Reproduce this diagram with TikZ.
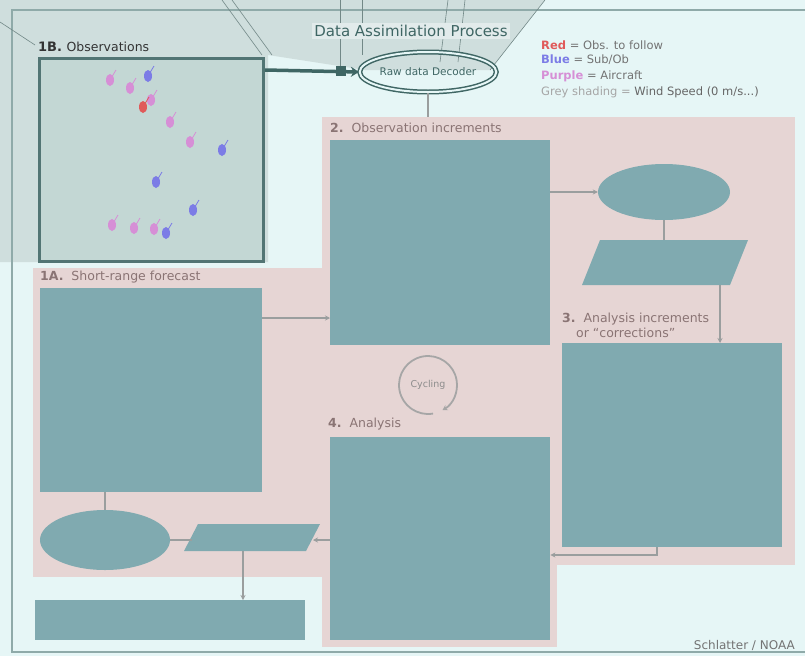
\documentclass[tikz,border=0pt]{standalone}
\usepackage{fontspec}
\setmainfont{DejaVu Sans}
\usetikzlibrary{shapes.geometric,arrows.meta}
\definecolor{bgc}{HTML}{E6F6F6}
\definecolor{shadec}{HTML}{CFDEDD}
\definecolor{pinkc}{HTML}{E6D5D4}
\definecolor{tealc}{HTML}{80AAB0}
\definecolor{dark}{HTML}{3F6664}
\definecolor{framec}{HTML}{8FAAA9}
\definecolor{conn}{HTML}{9A9E9E}
\definecolor{lab}{HTML}{8A7474}
\definecolor{obsbox}{HTML}{C3D7D4}
\definecolor{pinkob}{HTML}{D68FD6}
\definecolor{blueob}{HTML}{7C7CE6}
\definecolor{redob}{HTML}{E05A5A}
\tikzset{
  tbox/.style={fill=tealc, draw=none},
  tell/.style={ellipse, fill=tealc, draw=none},
  conline/.style={draw=conn, line width=2pt},
  conarrow/.style={conline, -{Stealth[length=5pt,width=5pt]}},
  lbl/.style={anchor=west, text=lab, font=\fontsize{12.5}{15}\selectfont, inner sep=0pt},
  legtext/.style={anchor=west, inner sep=0pt, font=\fontsize{11.5}{12}\selectfont, text=black!55},
  deco/.style={draw=framec!80!black, line width=0.6pt},
  anchorbox/.style={draw=none, fill=none, inner sep=0pt},
}
\newcommand{\obsmark}[3]{\fill[#1] (#2,#3) ellipse (4pt and 6pt); \draw[#1, line width=0.8pt] (#2,#3) -- ++(6,-10);}
\begin{document}
\begin{tikzpicture}[x=1pt,y=-1pt]
\useasboundingbox (0,0) rectangle (805,656);
\fill[bgc] (0,0) rectangle (805,656);
% grey shading
\fill[shadec] (0,0) -- (545,0) -- (490,70) -- (365,70) -- (268,55) -- (268,262) -- (0,262) -- cycle;
% pink regions
\fill[pinkc] (322,117) rectangle (795,565);
\fill[pinkc] (33,268) rectangle (322,577);
\fill[pinkc] (322,117) rectangle (557,647);
% frame
\draw[framec, line width=2.5pt] (805,10) -- (12,10) -- (12,652) -- (805,652);
% decorative lines
\draw[deco] (0,22) -- (35,45);
\draw[deco] (222,0) -- (262,55);
\draw[deco] (232,0) -- (272,55);
\draw[deco] (340,0) -- (340,72);
\draw[deco] (362,0) -- (362,55);
\draw[deco] (448,0) -- (440,62);
\draw[deco] (465,0) -- (458,62);
\draw[deco] (545,0) -- (490,70);
% title
\node[text=dark, font=\fontsize{15}{17}\selectfont, fill=shadec!60!white, inner sep=2pt] (title) at (411,31) {Data Assimilation Process};
% 1B observations
\node[anchor=west, font=\fontsize{13}{14}\selectfont\bfseries, text=black!80, inner sep=0pt] (l1b) at (38,47) {1B. \mdseries\fontsize{12.5}{14}\selectfont Observations};
\node[draw=dark!90, line width=3pt, fill=obsbox, minimum width=224pt, minimum height=203pt, anchor=north west, inner sep=0pt] (obs) at (38,57) {};
\obsmark{pinkob}{110}{80}
\obsmark{pinkob}{130}{88}
\obsmark{blueob}{148}{76}
\obsmark{pinkob}{151}{100}
\obsmark{redob}{143}{107}
\obsmark{pinkob}{170}{122}
\obsmark{pinkob}{190}{142}
\obsmark{blueob}{222}{150}
\obsmark{blueob}{156}{182}
\obsmark{blueob}{193}{210}
\obsmark{pinkob}{112}{225}
\obsmark{pinkob}{134}{228}
\obsmark{pinkob}{154}{229}
\obsmark{blueob}{166}{233}
% decoder ellipse
\node[ellipse, draw=dark, line width=1.5pt, double=bgc, double distance=2pt, minimum width=134pt, minimum height=40pt, inner sep=0pt, font=\fontsize{10.5}{12}\selectfont, text=dark] (dec) at (428,72) {Raw data Decoder};
\draw[dark, line width=3.5pt, -{Stealth[length=8pt,width=10pt]}] (obs.east |- 0,70) -- (dec.west);
\fill[dark] (336,66) rectangle (346,76);
% legend
\node[legtext] (lg1) at (541,45) {\textcolor{redob}{\bfseries Red} = Obs. to follow};
\node[legtext] (lg2) at (541,60) {\textcolor{blueob}{\bfseries Blue} = Sub/Ob};
\node[legtext] (lg3) at (541,76) {\textcolor{pinkob}{\bfseries Purple} = Aircraft};
\node[legtext, text=black!35, font=\fontsize{11.5}{12}\selectfont] (lg4) at (541,92) {Grey shading = \textcolor{black!60}{Wind Speed (0 m/s...)}};
% 2 observation increments
\node[lbl] (l2) at (330,128) {\textbf{2.}\ \ Observation increments};
\node[tbox, anchor=north west, minimum width=220pt, minimum height=205pt, inner sep=0pt] (b2) at (330,140) {};
\node[tell, minimum width=132pt, minimum height=56pt] (e2) at (664,192) {};
\fill[tealc] (600,240) -- (748,240) -- (730,285) -- (582,285) -- cycle;
\node[anchorbox, minimum width=166pt, minimum height=45pt] (p2) at (665,262.5) {};
% 3 analysis increments
\node[lbl, align=left] (l3) at (562,325) {\textbf{3.}\ \ Analysis increments\\ \hspace{14pt}or ``corrections''};
\node[tbox, anchor=north west, minimum width=220pt, minimum height=204pt, inner sep=0pt] (b3) at (562,343) {};
% 4 analysis
\node[lbl] (l4) at (328,424) {\textbf{4.}\ \ Analysis};
\node[tbox, anchor=north west, minimum width=220pt, minimum height=203pt, inner sep=0pt] (b4) at (330,437) {};
% 1A forecast
\node[lbl] (l1a) at (40,277) {\textbf{1A.}\ \ Short-range forecast};
\node[tbox, anchor=north west, minimum width=222pt, minimum height=204pt, inner sep=0pt] (b1) at (40,288) {};
\node[tell, minimum width=130pt, minimum height=60pt] (e1) at (105,540) {};
\fill[tealc] (198,524) -- (320,524) -- (306,551) -- (184,551) -- cycle;
\node[anchorbox, minimum width=136pt, minimum height=27pt] (p1) at (252,537.5) {};
\node[tbox, anchor=north west, minimum width=270pt, minimum height=40pt, inner sep=0pt] (b5) at (35,600) {};
% connectors
\draw[conarrow] (b2.east |- e2.west) -- (e2.west);
\draw[conline] (e2.south) -- (p2.north -| e2.south);
\coordinate (c3) at (720,285);
\draw[conarrow] (c3) -- (b3.north -| c3);
\coordinate (c4) at (657,547);
\draw[conarrow] (c4) -- (657,555) -- (b4.east |- 0,555);
\draw[conarrow] (b1.east |- 0,318) -- (b2.west |- 0,318);
\draw[conline] (b1.south -| e1.north) -- (e1.north);
\draw[conline] (e1.east) -- (192,540);
\draw[conarrow] (b4.west |- 0,540) -- (313,540);
\coordinate (c5) at (243,551);
\draw[conarrow] (c5) -- (b5.north -| c5);
\draw[conline, line width=1.5pt] (dec.south) -- (428,117);
% cycling
\node[font=\fontsize{9.5}{10}\selectfont, text=black!45] (cyc) at (428,385) {Cycling};
\draw[draw=black!35, line width=1.8pt, -{Stealth[length=5pt,width=6pt]}] (cyc.center) ++(80:29) arc (80:420:29);
% credit
\node[anchor=east, font=\fontsize{12}{13}\selectfont, text=black!55, inner sep=0pt] (cred) at (795,645) {Schlatter / NOAA};
\end{tikzpicture}
\end{document}
